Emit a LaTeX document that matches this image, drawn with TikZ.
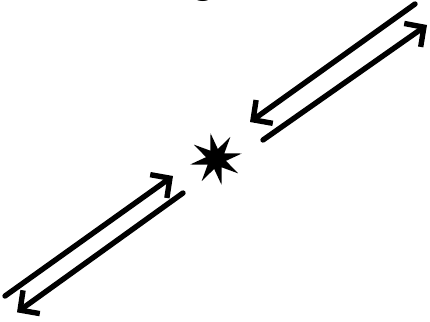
\documentclass[tikz,border=0pt]{standalone}
\usepackage{fontspec}
\newfontfamily\titlefont{Carlito}
\usetikzlibrary{arrows.meta, shapes.geometric}
\tikzset{
  ray/.style   = {line width=4.6pt, line cap=round,
                  -{Straight Barb[length=0.42cm, width=0.86cm, line width=4.6pt]}},
  burst/.style = {star, star points=8, star point ratio=2.6, fill=black,
                  draw=none, minimum size=1.58cm, inner sep=0pt, rotate=12},
  title/.style = {font=\titlefont\fontsize{40}{44}\selectfont, anchor=base,
                  inner sep=0pt}
}

\begin{document}
\begin{tikzpicture}
  \useasboundingbox (0,0) rectangle (12.9,9.63);

  % ── Title (cut off at the top edge) ───────────────────────────────────────
  \node[title] (Title) at (6.12,9.82) {g};

  % ── Collision point ───────────────────────────────────────────────────────
  \node[burst] (Hit) at (6.48,4.86) {};

  % ── Lower-left pair ───────────────────────────────────────────────────────
  \coordinate (InA)   at (0.15,0.75);
  \coordinate (TipA)  at (5.19,4.35);
  \coordinate (OutA)  at (5.49,3.84);
  \coordinate (EndA)  at (0.51,0.26);
  \draw[ray] (InA) -- (TipA);
  \draw[ray] (OutA) -- (EndA);

  % ── Upper-right pair ──────────────────────────────────────────────────────
  \coordinate (InB)   at (12.45,9.51);
  \coordinate (TipB)  at (7.50,5.97);
  \coordinate (OutB)  at (7.89,5.43);
  \coordinate (EndB)  at (12.81,8.88);
  \draw[ray] (InB) -- (TipB);
  \draw[ray] (OutB) -- (EndB);

\end{tikzpicture}
\end{document}
